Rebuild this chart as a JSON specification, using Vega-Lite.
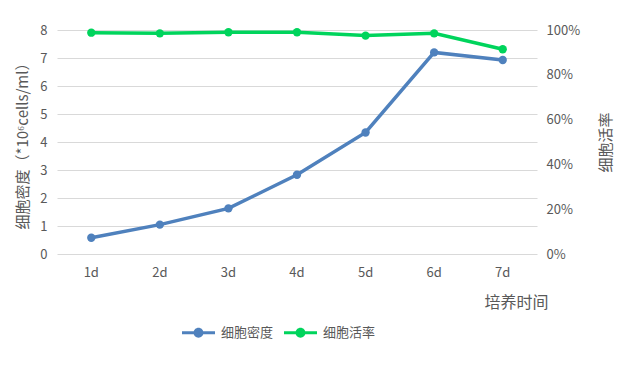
{
  "$schema": "https://vega.github.io/schema/vega-lite/v6.json",
  "width": 480,
  "height": 224,
  "autosize": {"type": "none"},
  "padding": {"left": 57, "top": 30, "right": 86, "bottom": 113},
  "background": "white",
  "config": {
    "font": "Noto Sans CJK SC",
    "view": {"stroke": null},
    "axis": {"labelFont": "Noto Sans CJK SC", "titleFont": "Noto Sans CJK SC", "labelColor": "#595959", "titleColor": "#595959", "labelFontSize": 13, "titleFontSize": 15, "titleFontWeight": "normal", "domain": false, "ticks": false, "gridColor": "#d9d9d9", "gridWidth": 1, "labelOverlap": false}
  },
  "data": {
    "values": [
      {"day": "1d", "series": "细胞密度", "value": 0.58},
      {"day": "2d", "series": "细胞密度", "value": 1.05},
      {"day": "3d", "series": "细胞密度", "value": 1.63},
      {"day": "4d", "series": "细胞密度", "value": 2.83},
      {"day": "5d", "series": "细胞密度", "value": 4.34},
      {"day": "6d", "series": "细胞密度", "value": 7.2},
      {"day": "7d", "series": "细胞密度", "value": 6.93},
      {"day": "1d", "series": "细胞活率", "value": 0.988},
      {"day": "2d", "series": "细胞活率", "value": 0.985},
      {"day": "3d", "series": "细胞活率", "value": 0.99},
      {"day": "4d", "series": "细胞活率", "value": 0.99},
      {"day": "5d", "series": "细胞活率", "value": 0.975},
      {"day": "6d", "series": "细胞活率", "value": 0.985},
      {"day": "7d", "series": "细胞活率", "value": 0.914}
    ]
  },
  "encoding": {
    "x": {
      "field": "day", "type": "ordinal",
      "scale": {"type": "band", "paddingInner": 0, "paddingOuter": 0},
      "axis": {"labelAngle": 0, "labelPadding": 12, "grid": false, "title": "培养时间", "titleX": 491, "titleY": 48, "titleAlign": "right", "titleBaseline": "middle", "titleFontSize": 16}
    }
  },
  "layer": [
    {
      "transform": [{"filter": "datum.series === '细胞密度'"}],
      "mark": {"type": "line", "strokeWidth": 3.5, "point": {"filled": true, "size": 70}},
      "encoding": {
        "y": {
          "field": "value", "type": "quantitative",
          "scale": {"domain": [0, 8], "nice": false},
          "axis": {"orient": "left", "values": [0,1,2,3,4,5,6,7,8], "grid": true, "labelPadding": 10, "title": "细胞密度（*10⁶cells/ml）", "titleAngle": 270, "titleX": -35, "titleY": 112, "titleAlign": "center", "titleBaseline": "middle"}
        },
        "color": {
          "field": "series", "type": "nominal",
          "scale": {"domain": ["细胞密度", "细胞活率"], "range": ["#4f81bd", "#00d45c"]},
          "legend": {
            "orient": "none", "direction": "horizontal", "legendX": 125, "legendY": 286, "title": null,
            "symbolType": "M -1 -0.09 H 1 V 0.09 H -1 Z M 0.3 0 A 0.3 0.3 0 1 1 -0.3 0 A 0.3 0.3 0 1 1 0.3 0 Z",
            "symbolSize": 1089, "labelFontSize": 13, "labelColor": "#595959", "labelFont": "Noto Sans CJK SC", "labelOffset": 6, "columnPadding": 10,
            "encode": {"symbols": {"update": {"fill": {"scale": "color", "field": "value"}, "strokeWidth": {"value": 0}, "opacity": {"value": 1}}}}
          }
        }
      }
    },
    {
      "transform": [{"filter": "datum.series === '细胞活率'"}],
      "mark": {"type": "line", "strokeWidth": 3.5, "point": {"filled": true, "size": 70}},
      "encoding": {
        "y": {
          "field": "value", "type": "quantitative",
          "scale": {"domain": [0, 1], "nice": false},
          "axis": {"orient": "right", "values": [0,0.2,0.4,0.6,0.8,1], "format": ".0%", "grid": false, "labelPadding": 9, "title": "细胞活率", "titleAngle": 270, "titleX": 68, "titleY": 112, "titleAlign": "center", "titleBaseline": "middle"}
        },
        "color": {"field": "series", "type": "nominal"}
      }
    }
  ],
  "resolve": {"scale": {"y": "independent"}}
}
